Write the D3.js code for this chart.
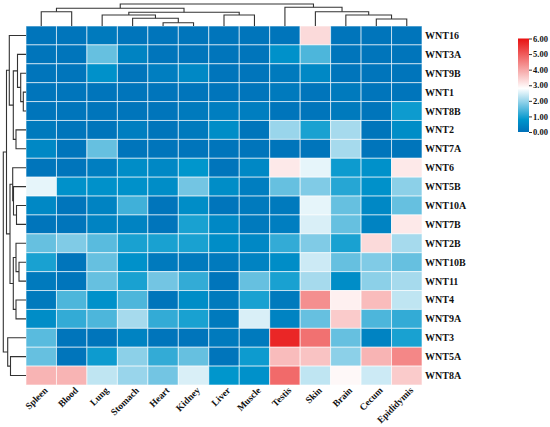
<!DOCTYPE html>
<html><head><meta charset="utf-8">
<script src="https://cdn.jsdelivr.net/npm/d3@7"></script>
<style>body{margin:0;background:#fff}svg{display:block}</style>
</head><body><svg id="c" width="550" height="427"></svg>
<script>
const tissues = ["Spleen","Blood","Lung","Stomach","Heart","Kidney","Liver","Muscle","Testis","Skin","Brain","Cecum","Epididymis"];
const genes = ["WNT16","WNT3A","WNT9B","WNT1","WNT8B","WNT2","WNT7A","WNT6","WNT5B","WNT10A","WNT7B","WNT2B","WNT10B","WNT11","WNT4","WNT9A","WNT3","WNT5A","WNT8A"];
const expression = [
 [0.1,0.1,0.2,0.1,0.1,0.1,0.1,0.1,0.1,3.3,0.1,0.1,0.1],
 [0.1,0.1,1.6,0.4,0.1,0.1,0.1,0.1,0.7,1.4,0.1,0.1,0.1],
 [0.1,0.1,0.7,0.1,0.3,0.5,0.1,0.1,0.2,0.5,0.1,0.1,0.1],
 [0.1,0.1,0.1,0.1,0.1,0.1,0.1,0.1,0.2,0.1,0.2,0.1,0.1],
 [0.1,0.1,0.1,0.1,0.1,0.2,0.3,0.3,0.1,0.1,0.2,0.1,0.9],
 [0.2,0.1,0.1,0.3,0.1,0.2,0.6,0.1,2.0,1.0,2.1,0.1,0.6],
 [0.5,0.1,1.6,0.1,0.1,0.1,0.1,0.1,0.1,0.1,2.1,0.1,0.1],
 [0.1,0.1,0.3,0.6,0.5,0.8,0.1,0.5,3.1,2.6,0.9,0.7,3.1],
 [2.6,0.7,0.7,0.7,0.6,1.7,0.6,0.3,1.6,1.8,1.1,0.7,1.9],
 [0.5,0.1,0.4,1.3,0.1,0.6,0.1,0.2,0.2,2.6,1.6,0.5,1.6],
 [0.1,0.1,0.4,0.4,0.1,1.0,0.5,0.2,0.3,2.5,1.6,0.4,3.1],
 [1.6,1.8,1.5,1.0,1.0,1.0,0.6,0.5,1.2,1.8,1.0,3.3,2.1],
 [1.0,0.1,1.6,0.7,0.2,0.2,0.2,0.4,0.6,2.4,1.6,1.8,1.6],
 [0.2,0.1,1.6,1.0,1.7,1.2,0.1,1.6,1.0,2.1,0.6,1.9,2.1],
 [0.2,1.4,0.7,1.4,0.1,0.6,0.2,1.0,0.2,4.3,3.0,3.7,2.3],
 [0.6,1.2,1.4,2.1,1.2,1.0,0.2,2.5,0.4,1.6,3.5,1.4,1.2],
 [1.5,0.1,0.1,0.4,0.1,0.1,0.2,0.2,5.7,4.7,1.6,0.4,1.0],
 [1.6,0.1,0.9,1.9,1.2,1.6,0.1,0.9,3.7,3.6,1.9,3.8,4.4],
 [3.8,3.8,2.3,2.0,1.7,2.5,0.8,0.7,4.8,2.3,2.9,2.4,3.5]
];
// hierarchical clustering merges: [left, right, height, id]
const colMerges = [
 ["Spleen","Blood",14.3,"A"],["Heart","Kidney",3.3,"B"],["Stomach","B",7.7,"C"],
 ["Lung","C",11,"D"],["Liver","Muscle",11,"E"],["D","E",13.7,"F"],["A","F",17.7,"G"],
 ["Cecum","Epididymis",7,"H"],["Brain","H",11,"I"],["Skin","I",14.3,"J"],
 ["Testis","J",18.7,"K"],["G","K",22,"root"]];
const rowMerges = [
 ["WNT1","WNT8B",2.7,"P1"],["WNT9B","P1",5.3,"P2"],["WNT3A","P2",8.5,"P3"],
 ["WNT2","WNT7A",10,"P4"],["P3","P4",12.7,"P5"],["WNT16","P5",16.7,"P6"],
 ["WNT10A","WNT7B",9.5,"S1"],["WNT5B","S1",12.5,"S2"],["WNT6","S2",13.3,"S3"],
 ["WNT10B","WNT11",7,"Q1"],["WNT2B","Q1",10,"Q2"],["WNT4","WNT9A",10,"Q3"],
 ["Q2","Q3",12.7,"Q4"],["S3","Q4",16,"M"],["P6","M",19.5,"T"],
 ["WNT5A","WNT8A",15.5,"R1"],["WNT3","R1",18.3,"R2"],["T","R2",22.7,"root"]];
const colorStops = [0, 0.8, 2.8, 6];
const colorRange = ["#0070b8","#0096cc","#ffffff","#e81010"];
const legendTicks = [0,1,2,3,4,5,6];

const svg = d3.select("#c");
const font = "'Liberation Serif','Times New Roman',serif";
const x = d3.scaleBand().domain(tissues).range([26,422]);
const y = d3.scaleBand().domain(genes).range([26,385]);
const color = d3.scaleLinear().domain(colorStops).range(colorRange).clamp(true);

// cells
const cells = [];
genes.forEach((g,i)=>tissues.forEach((t,j)=>cells.push({g,t,v:expression[i][j]})));
svg.append("g").selectAll("rect").data(cells).join("rect")
 .attr("x",d=>x(d.t)).attr("y",d=>y(d.g))
 .attr("width",x.bandwidth()).attr("height",y.bandwidth())
 .attr("fill",d=>color(d.v)).attr("stroke","#fff").attr("stroke-opacity",0.6).attr("stroke-width",1);

// dendrograms
function dendro(merges, band, hscale, vertical){
  const pos={}, ht={};
  band.domain().forEach(k=>{pos[k]=band(k)+band.bandwidth()/2; ht[k]=0;});
  const paths=[];
  merges.forEach(([a,b,h,id])=>{
    pos[id]=(pos[a]+pos[b])/2; ht[id]=h;
    if(vertical){
      paths.push(`M${pos[a]},${hscale(ht[a])}V${hscale(h)}H${pos[b]}V${hscale(ht[b])}`);
    } else {
      paths.push(`M${hscale(ht[a])},${pos[a]}H${hscale(h)}V${pos[b]}H${hscale(ht[b])}`);
    }
  });
  return paths;
}
const colH = d3.scaleLinear().domain([0,22]).range([26,4]);
const rowH = d3.scaleLinear().domain([0,22.7]).range([26,3.3]);
svg.append("g").selectAll("path").data(dendro(colMerges,x,colH,true)).join("path")
 .attr("d",d=>d).attr("fill","none").attr("stroke","#333").attr("stroke-width",1.1);
svg.append("g").selectAll("path").data(dendro(rowMerges,y,rowH,false)).join("path")
 .attr("d",d=>d).attr("fill","none").attr("stroke","#333").attr("stroke-width",1.1);

// row labels
svg.append("g").selectAll("text").data(genes).join("text")
 .attr("x",425).attr("y",d=>y(d)+y.bandwidth()/2).attr("dy","0.35em")
 .attr("font-family",font).attr("font-weight","bold").attr("font-size",10).attr("fill","#111")
 .text(d=>d);
// column labels
svg.append("g").selectAll("text").data(tissues).join("text")
 .attr("transform",d=>`translate(${x(d)+x.bandwidth()/2+7},391) rotate(-45)`)
 .attr("text-anchor","end")
 .attr("font-family",font).attr("font-weight","bold").attr("font-size",9.5).attr("fill","#111")
 .text(d=>d);

// colour legend
const ly = d3.scaleLinear().domain([0,6]).range([132,38.5]);
const defs = svg.append("defs");
const grad = defs.append("linearGradient").attr("id","lg").attr("x1",0).attr("y1",1).attr("x2",0).attr("y2",0);
colorStops.forEach((s,i)=>grad.append("stop").attr("offset",s/6).attr("stop-color",colorRange[i]));
svg.append("rect").attr("x",518).attr("y",38.5).attr("width",11).attr("height",132-38.5).attr("fill","url(#lg)");
const ax = svg.append("g").attr("transform","translate(529,0)")
 .call(d3.axisRight(ly).tickValues(legendTicks).tickFormat(d3.format(".2f")).tickSize(3).tickPadding(1));
ax.select(".domain").remove();
ax.selectAll("line").attr("stroke","#333");
ax.selectAll("text").attr("font-family",font).attr("font-weight","bold").attr("font-size",8.5).attr("fill","#111");
</script></body></html>
